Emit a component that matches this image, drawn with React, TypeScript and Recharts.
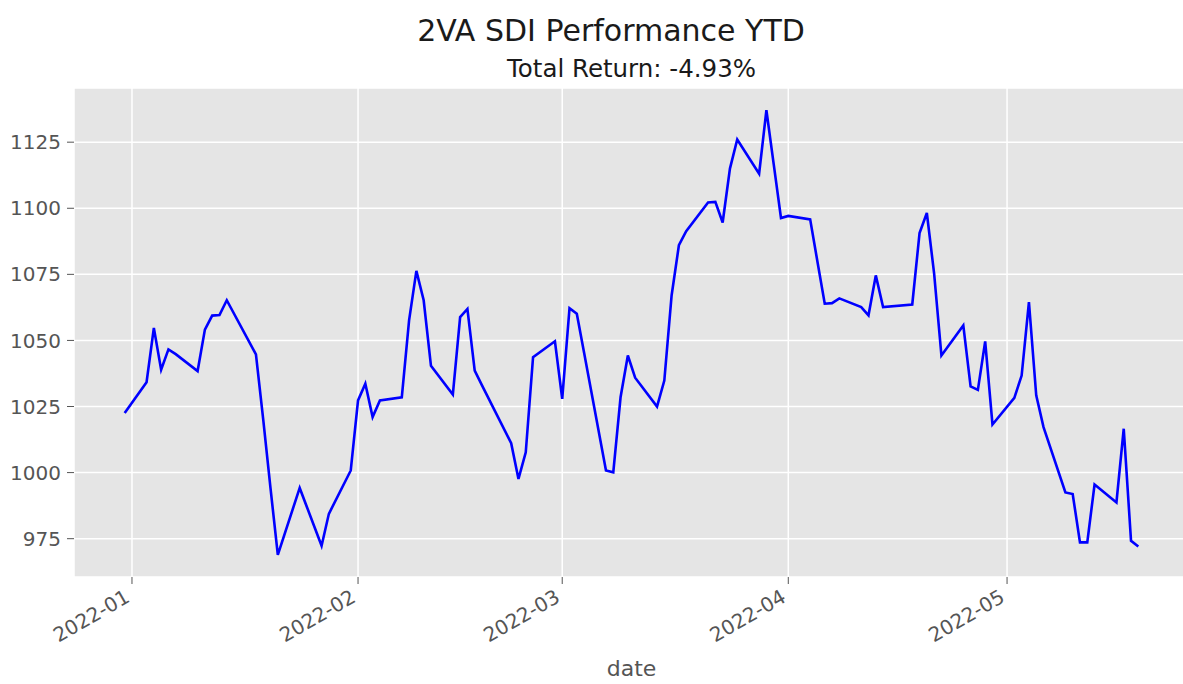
import React from "react";
import { LineChart, Line, XAxis, YAxis, CartesianGrid } from "recharts";

const dates: string[] = [
  "2021-12-31",
  "2022-01-03", "2022-01-04", "2022-01-05", "2022-01-06", "2022-01-07",
  "2022-01-10", "2022-01-11", "2022-01-12", "2022-01-13", "2022-01-14",
  "2022-01-18", "2022-01-19", "2022-01-20", "2022-01-21",
  "2022-01-24", "2022-01-25", "2022-01-26", "2022-01-27", "2022-01-28",
  "2022-01-31", "2022-02-01", "2022-02-02", "2022-02-03", "2022-02-04",
  "2022-02-07", "2022-02-08", "2022-02-09", "2022-02-10", "2022-02-11",
  "2022-02-14", "2022-02-15", "2022-02-16", "2022-02-17", "2022-02-18",
  "2022-02-22", "2022-02-23", "2022-02-24", "2022-02-25",
  "2022-02-28", "2022-03-01", "2022-03-02", "2022-03-03", "2022-03-04",
  "2022-03-07", "2022-03-08", "2022-03-09", "2022-03-10", "2022-03-11",
  "2022-03-14", "2022-03-15", "2022-03-16", "2022-03-17", "2022-03-18",
  "2022-03-21", "2022-03-22", "2022-03-23", "2022-03-24", "2022-03-25",
  "2022-03-28", "2022-03-29", "2022-03-30", "2022-03-31", "2022-04-01",
  "2022-04-04", "2022-04-05", "2022-04-06", "2022-04-07", "2022-04-08",
  "2022-04-11", "2022-04-12", "2022-04-13", "2022-04-14",
  "2022-04-18", "2022-04-19", "2022-04-20", "2022-04-21", "2022-04-22",
  "2022-04-25", "2022-04-26", "2022-04-27", "2022-04-28", "2022-04-29",
  "2022-05-02", "2022-05-03", "2022-05-04", "2022-05-05", "2022-05-06",
  "2022-05-09", "2022-05-10", "2022-05-11", "2022-05-12", "2022-05-13",
  "2022-05-16", "2022-05-17", "2022-05-18", "2022-05-19",
];

const values: number[] = [
  1022.5,
  1034.2, 1054.7, 1038.9, 1046.6, 1044.8,
  1038.4, 1054.1, 1059.4, 1059.6, 1065.2,
  1044.7, 1020.0, 994.0, 968.9,
  994.2, 986.9, 979.6, 972.3, 984.4,
  1000.8, 1027.3, 1033.6, 1021.0, 1027.3,
  1028.5, 1057.6, 1076.3, 1065.2, 1040.4,
  1029.5, 1058.8, 1061.9, 1038.6, 1033.0,
  1011.1, 997.6, 1007.7, 1043.7,
  1049.7, 1027.9, 1062.2, 1060.1, 1045.3,
  1000.8, 1000.1, 1028.5, 1044.3, 1035.9,
  1025.0, 1034.8, 1067.0, 1086.0, 1091.3,
  1102.2, 1102.4, 1094.6, 1115.0, 1126.0,
  1113.1, 1137.1, 1116.7, 1096.3, 1097.1,
  1095.8, 1079.8, 1063.9, 1064.1, 1065.9,
  1062.6, 1059.5, 1074.6, 1062.6,
  1063.6, 1090.6, 1098.2, 1075.3, 1044.3,
  1055.7, 1032.6, 1031.3, 1049.6, 1018.2,
  1028.3, 1036.7, 1064.5, 1029.2, 1017.2,
  992.5, 991.9, 973.6, 973.6, 995.5,
  988.7, 1016.6, 974.2, 972.0,
];

const xTickDates: string[] = ["2022-01-01", "2022-02-01", "2022-03-01", "2022-04-01", "2022-05-01"];
const xTickLabels: string[] = ["2022-01", "2022-02", "2022-03", "2022-04", "2022-05"];
const yTicks: number[] = [975, 1000, 1025, 1050, 1075, 1100, 1125];

const title = "2VA SDI Performance YTD";
const subtitle = "Total Return: -4.93%";
const xLabel = "date";

const BASE = Date.UTC(2022, 0, 1);
const dayIndex = (s: string): number => {
  const [y, m, d] = s.split("-").map(Number);
  return (Date.UTC(y, m - 1, d) - BASE) / 86400000;
};

const data = dates.map((d, i) => ({ date: d, day: dayIndex(d), value: values[i] }));
const xTicks = xTickDates.map(dayIndex);
const labelFor = (v: number): string => {
  const i = xTicks.indexOf(v);
  return i >= 0 ? xTickLabels[i] : "";
};

const FONT = "'DejaVu Sans', sans-serif";

const XTick = (props: any) => {
  const { x, y, payload } = props;
  const ax = x - 1;
  const ay = y + 15;
  return (
    <text
      x={ax}
      y={ay}
      transform={`rotate(-30, ${ax}, ${ay})`}
      textAnchor="end"
      fontSize={20}
      fill="#555555"
      fontFamily={FONT}
    >
      {labelFor(payload.value)}
    </text>
  );
};

export default function App() {
  return (
    <div style={{ position: "absolute", left: 0, top: 0, width: 1183, height: 684, overflow: "hidden", background: "#fff" }}>
      <LineChart
        width={1195}
        height={684}
        data={data}
        margin={{ top: 88, right: 6, bottom: 0, left: 0 }}
        style={{ fontFamily: FONT }}
      >
        <CartesianGrid stroke="#ffffff" strokeWidth={1.5} fill="#E5E5E5" />
        <XAxis
          dataKey="day"
          type="number"
          domain={[-7.95, 144.95]}
          ticks={xTicks}
          allowDataOverflow
          axisLine={false}
          tickLine={{ stroke: "#555555", strokeWidth: 1 }}
          tickSize={7}
          height={107}
          tick={<XTick />}
          interval={0}
        />
        <YAxis
          type="number"
          domain={[960.5, 1145.5]}
          ticks={yTicks}
          allowDataOverflow
          axisLine={false}
          tickLine={{ stroke: "#555555", strokeWidth: 1 }}
          tickSize={7}
          tickMargin={6}
          width={74}
          tick={{ fill: "#555555", fontSize: 20, fontFamily: FONT }}
          interval={0}
        />
        <Line
          type="linear"
          dataKey="value"
          stroke="#0000ff"
          strokeWidth={2.6}
          dot={false}
          activeDot={false}
          isAnimationActive={false}
        />
      </LineChart>
      <svg
        width={1183}
        height={684}
        style={{ position: "absolute", left: 0, top: 0, pointerEvents: "none" }}
      >
        <text x={611} y={41} textAnchor="middle" fontSize={30} fill="#1a1a1a" fontFamily={FONT}>
          {title}
        </text>
        <text x={631.5} y={77} textAnchor="middle" fontSize={24.5} fill="#1a1a1a" fontFamily={FONT}>
          {subtitle}
        </text>
        <text x={631.5} y={676} textAnchor="middle" fontSize={22} fill="#555555" fontFamily={FONT}>
          {xLabel}
        </text>
      </svg>
    </div>
  );
}
